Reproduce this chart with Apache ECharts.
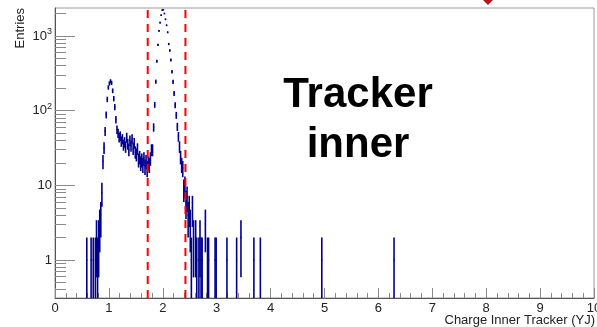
<!DOCTYPE html>
<html>
<head>
<meta charset="utf-8">
<script src="https://cdn.jsdelivr.net/npm/echarts@6/dist/echarts.min.js"></script>
<style>
  html, body { margin: 0; padding: 0; background: #fff; }
  #chart { width: 597px; height: 327px; }
</style>
</head>
<body>
<div id="chart"></div>
<script>
// Histogram of the inner-tracker charge (bin width 0.02), only non-empty bins listed.
const BIN_W = 0.02;
const binCenter = [
  0.59, 0.67, 0.71, 0.75, 0.77, 0.79, 0.81, 0.83, 0.85, 0.87, 0.89,
  0.91, 0.93, 0.95, 0.97, 0.99, 1.01, 1.03, 1.05, 1.07, 1.09,
  1.11, 1.13, 1.15, 1.17, 1.19, 1.21, 1.23, 1.25, 1.27, 1.29,
  1.31, 1.33, 1.35, 1.37, 1.39, 1.41, 1.43, 1.45, 1.47, 1.49,
  1.51, 1.53, 1.55, 1.57, 1.59, 1.61, 1.63, 1.65, 1.67, 1.69,
  1.71, 1.73, 1.75, 1.77, 1.79, 1.81, 1.83, 1.85, 1.87, 1.89,
  1.91, 1.93, 1.95, 1.97, 1.99, 2.01, 2.03, 2.05, 2.07, 2.09,
  2.11, 2.13, 2.15, 2.17, 2.19, 2.21, 2.23, 2.25, 2.27, 2.29,
  2.31, 2.33, 2.35, 2.37, 2.39, 2.41, 2.43, 2.45, 2.47, 2.49,
  2.51, 2.53, 2.55, 2.57, 2.61, 2.63, 2.67, 2.69, 2.71, 2.73,
  2.79, 2.83, 2.85, 2.97, 2.99, 3.19, 3.37, 3.45, 3.69, 3.81,
  4.95, 6.29
];
const binCount = [
  1, 1, 1, 1, 2, 1, 2, 3, 4, 8, 21,
  32, 53, 88, 142, 205, 232, 248, 236, 185, 145,
  112, 76, 56, 50, 44, 46, 39, 42, 35, 38,
  33, 44, 36, 30, 40, 34, 42, 31, 37, 28,
  26, 31, 22, 24, 20, 22, 19, 23, 18, 21,
  17, 20, 19, 23, 30, 30, 60, 120, 245, 460,
  760, 1170, 1510, 1900, 2220, 2250, 2000, 1670, 1390, 1120,
  780, 640, 476, 332, 244, 170, 119, 87, 61, 45,
  33, 24, 19, 17, 9, 10, 6, 7, 4, 5,
  3, 1, 5, 2, 2, 1, 1, 2, 1, 1,
  3, 1, 1, 1, 1, 1, 1, 2, 1, 1,
  1, 1
];
// Selection cut positions
const cutValues = [1.72, 2.42];

// Axis ranges and tick marks
const X_MIN = 0, X_MAX = 10;
const Y_MIN = 0.31, Y_MAX = 2370;
const yMajorTicks = [1, 10, 100, 1000];
const yMinorTicks = [
  0.4, 0.5, 0.6, 0.7, 0.8, 0.9,
  2, 3, 4, 5, 6, 7, 8, 9,
  20, 30, 40, 50, 60, 70, 80, 90,
  200, 300, 400, 500, 600, 700, 800, 900,
  2000
];

const HIST_COLOR = '#000090';
const FONT = '"Liberation Sans", Arial, sans-serif';

const histData = binCenter.map((x, i) => [x, binCount[i]]);

const chart = echarts.init(document.getElementById('chart'), null, { renderer: 'canvas' });

function yLabel(v) {
  if (v === 1) return '1';
  if (v === 10) return '10';
  return '{b|10}{s|' + Math.round(Math.log10(v)) + '}';
}

chart.setOption({
  animation: false,
  backgroundColor: '#ffffff',
  grid: {
    left: 55, right: 3, top: 8, bottom: 29,
    outerBoundsMode: 'none',
    containLabel: false,
    show: true, borderColor: '#9a9a9a', borderWidth: 1, backgroundColor: 'transparent'
  },
  xAxis: {
    type: 'value',
    min: X_MIN,
    max: X_MAX,
    interval: 1,
    axisLine: { show: true, lineStyle: { color: '#555', width: 1 } },
    axisTick: { show: true, inside: true, length: 10, lineStyle: { color: '#8a8a8a' } },
    minorTick: { show: true, splitNumber: 5, length: 5, lineStyle: { color: '#8a8a8a' } },
    splitLine: { show: false },
    minorSplitLine: { show: false },
    axisLabel: { fontFamily: FONT, fontSize: 13, color: '#222', margin: 4, hideOverlap: false }
  },
  yAxis: [
    {
      type: 'log',
      logBase: 10,
      min: Y_MIN,
      max: Y_MAX,
      position: 'left',
      axisLine: { show: true, lineStyle: { color: '#555', width: 1 } },
      axisTick: { show: true, inside: true, length: 20, customValues: yMajorTicks, lineStyle: { color: '#8a8a8a' } },
      splitLine: { show: false },
      axisLabel: {
        customValues: yMajorTicks,
        formatter: yLabel,
        fontFamily: FONT, fontSize: 13, color: '#222', margin: 3,
        rich: {
          b: { fontFamily: FONT, fontSize: 13, color: '#222' },
          s: { fontFamily: FONT, fontSize: 9, color: '#222', verticalAlign: 'bottom', padding: [0, 0, 9, 0] }
        }
      }
    },
    {
      type: 'log',
      logBase: 10,
      min: Y_MIN,
      max: Y_MAX,
      position: 'left',
      offset: 0,
      axisLine: { show: false },
      axisTick: { show: true, inside: true, length: 11, customValues: yMinorTicks, lineStyle: { color: '#8a8a8a' } },
      splitLine: { show: false },
      axisLabel: { show: false }
    }
  ],
  graphic: [
    {
      type: 'text', x: 20, y: 8, rotation: Math.PI / 2,
      style: { text: 'Entries', fontFamily: FONT, fontSize: 13, fill: '#222', align: 'right', verticalAlign: 'middle' }
    },
    {
      type: 'text', x: 595, y: 320,
      style: { text: 'Charge Inner Tracker (YJ)', fontFamily: FONT, fontSize: 13, fill: '#222', align: 'right', verticalAlign: 'middle' }
    },
    {
      type: 'text', x: 358, y: 95,
      style: { text: 'Tracker', fontFamily: FONT, fontWeight: 'bold', fontSize: 42, fill: '#000', align: 'center', verticalAlign: 'middle' }
    },
    {
      type: 'text', x: 358, y: 145,
      style: { text: 'inner', fontFamily: FONT, fontWeight: 'bold', fontSize: 42, fill: '#000', align: 'center', verticalAlign: 'middle' }
    },
    {
      type: 'polygon',
      shape: { points: [[479, -4], [488, 5], [497, -4], [488, -13]] },
      style: { fill: '#b5141a' }
    }
  ],
  series: [
    {
      type: 'custom',
      name: 'cuts',
      coordinateSystem: 'cartesian2d',
      data: cutValues.map(v => [v, Y_MAX]),
      encode: { x: 0, y: 1 },
      z: 3,
      renderItem: function (params, api) {
        const x = api.value(0);
        const top = api.coord([x, Y_MAX]);
        const bot = api.coord([x, Y_MIN]);
        return {
          type: 'line',
          shape: { x1: top[0], y1: top[1], x2: bot[0], y2: bot[1] },
          style: { stroke: '#ff0000', lineWidth: 2, lineDash: [8, 6], lineDashOffset: 12 }
        };
      }
    },
    {
      type: 'custom',
      name: 'histogram',
      coordinateSystem: 'cartesian2d',
      data: histData,
      encode: { x: 0, y: 1 },
      z: 2,
      renderItem: function (params, api) {
        const x = api.value(0);
        const n = api.value(1);
        const err = Math.sqrt(n);
        const lo = Math.max(n - err, Y_MIN);
        const hi = Math.min(n + err, Y_MAX);
        const pLo = api.coord([x, lo]);
        const pHi = api.coord([x, hi]);
        const pL = api.coord([x - BIN_W / 2, n]);
        const pR = api.coord([x + BIN_W / 2, n]);
        return {
          type: 'group',
          children: [
            { type: 'line', shape: { x1: pLo[0], y1: pLo[1], x2: pHi[0], y2: pHi[1] }, style: { stroke: HIST_COLOR, lineWidth: 1.6 } },
            { type: 'line', shape: { x1: pL[0], y1: pL[1], x2: pR[0], y2: pR[1] }, style: { stroke: HIST_COLOR, lineWidth: 1.6 } }
          ]
        };
      }
    }
  ]
});
</script>
</body>
</html>
